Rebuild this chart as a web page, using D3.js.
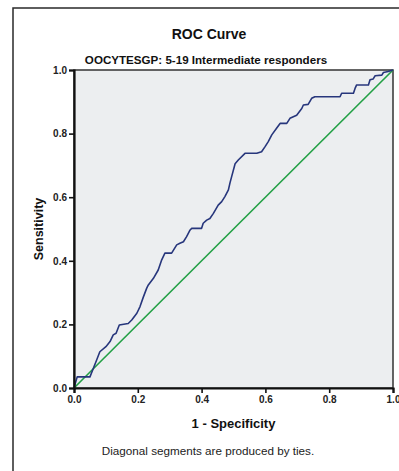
<!DOCTYPE html>
<html lang="en">

<head>
    <meta charset="UTF-8">
    <title>ROC Curve</title>
    <!-- Load d3.js -->
    <script src="https://d3js.org/d3.v7.min.js"></script>
    <style>
        body { margin: 0; background: #fff; }
        svg { display: block; font-family: "Liberation Sans", Arial, sans-serif; }
        .tick text { font-weight: bold; font-size: 10px; fill: #222; }
    </style>
</head>

<body>
    <div class="container"></div>

    <script>
        // 1 - specificity (false positive rate)
        const fpr = [0, 0.01, 0.024, 0.03, 0.05, 0.071, 0.081, 0.10, 0.113, 0.123, 0.132, 0.142, 0.170, 0.181,
            0.197, 0.207, 0.217, 0.228, 0.233, 0.249, 0.264, 0.275, 0.285, 0.306, 0.322, 0.332, 0.343, 0.353,
            0.364, 0.369, 0.400, 0.405, 0.416, 0.426, 0.437, 0.452, 0.463, 0.473, 0.484, 0.489, 0.494, 0.505,
            0.515, 0.536, 0.573, 0.588, 0.599, 0.609, 0.620, 0.635, 0.646, 0.667, 0.677, 0.698, 0.714, 0.719,
            0.734, 0.745, 0.755, 0.834, 0.839, 0.876, 0.881, 0.886, 0.923, 0.928, 0.938, 0.944, 0.965, 0.970,
            0.985, 1];
        // sensitivity (true positive rate)
        const tpr = [0, 0.035, 0.035, 0.035, 0.035, 0.088, 0.114, 0.13, 0.146, 0.167, 0.172, 0.198, 0.203, 0.214,
            0.235, 0.256, 0.285, 0.314, 0.324, 0.345, 0.371, 0.403, 0.424, 0.424, 0.450, 0.455, 0.460, 0.476,
            0.497, 0.502, 0.502, 0.518, 0.528, 0.533, 0.549, 0.575, 0.586, 0.602, 0.623, 0.645, 0.664, 0.705,
            0.717, 0.738, 0.738, 0.743, 0.759, 0.775, 0.796, 0.817, 0.832, 0.832, 0.848, 0.858, 0.879, 0.890,
            0.892, 0.911, 0.916, 0.916, 0.927, 0.927, 0.942, 0.953, 0.953, 0.969, 0.972, 0.982, 0.984, 0.992,
            0.995, 1];
        // reference line
        const diagonal = [0, 1];
        const ticks = [0, 0.2, 0.4, 0.6, 0.8, 1.0];

        const title = "ROC Curve";
        const subtitle = "OOCYTESGP: 5-19 Intermediate responders";
        const xLabel = "1 - Specificity";
        const yLabel = "Sensitivity";
        const footnote = "Diagonal segments are produced by ties.";

        const W = 399, H = 471;
        const margin = { top: 70, right: 6, bottom: 83, left: 74 },
            width = W - margin.left - margin.right,
            height = H - margin.top - margin.bottom;

        const root = d3.select(".container")
            .append("svg")
            .attr("width", W)
            .attr("height", H);

        // outer frame (right and bottom run off the picture)
        root.append("rect")
            .attr("x", 13)
            .attr("y", 8)
            .attr("width", W)
            .attr("height", H)
            .attr("fill", "none")
            .attr("stroke", "#2a2a2a")
            .attr("stroke-width", 1.5);

        root.append("text")
            .attr("x", 209)
            .attr("y", 39)
            .attr("text-anchor", "middle")
            .attr("font-size", "14px")
            .attr("font-weight", "bold")
            .attr("fill", "#111")
            .text(title);

        root.append("text")
            .attr("x", 206)
            .attr("y", 64)
            .attr("text-anchor", "middle")
            .attr("font-size", "11.6px")
            .attr("font-weight", "bold")
            .attr("fill", "#111")
            .text(subtitle);

        const svg = root.append("g")
            .attr("transform", `translate(${margin.left}, ${margin.top})`);

        const x = d3.scaleLinear().domain([0, 1]).range([0, width]);
        const y = d3.scaleLinear().domain([0, 1]).range([height, 0]);

        // plot background
        svg.append("rect")
            .attr("width", width)
            .attr("height", height)
            .attr("fill", "#eceef0")
            .attr("stroke", "#333")
            .attr("stroke-width", 1.5);

        // diagonal reference
        svg.append("line")
            .attr("x1", x(diagonal[0]))
            .attr("y1", y(diagonal[0]))
            .attr("x2", x(diagonal[1]))
            .attr("y2", y(diagonal[1]))
            .attr("stroke", "#22a045")
            .attr("stroke-width", 1.6);

        // ROC curve
        const points = fpr.map((f, i) => [f, tpr[i]]);
        svg.append("path")
            .datum(points)
            .attr("fill", "none")
            .attr("stroke", "#27367c")
            .attr("stroke-width", 1.6)
            .attr("stroke-linejoin", "round")
            .attr("d", d3.line().x(d => x(d[0])).y(d => y(d[1])));

        // axes
        const xAxis = svg.append("g")
            .attr("transform", `translate(0, ${height})`)
            .call(d3.axisBottom(x).tickValues(ticks).tickFormat(d3.format(".1f")).tickSize(5).tickPadding(3));
        const yAxis = svg.append("g")
            .call(d3.axisLeft(y).tickValues(ticks).tickFormat(d3.format(".1f")).tickSize(5).tickPadding(2));

        [xAxis, yAxis].forEach(a => {
            a.attr("font-family", null).attr("font-size", null);
            a.select(".domain").attr("stroke", "#111").attr("stroke-width", 2.2);
            a.selectAll(".tick line").attr("stroke", "#111").attr("stroke-width", 1.6);
        });

        // axis titles
        svg.append("text")
            .attr("x", width / 2)
            .attr("y", height + 40)
            .attr("text-anchor", "middle")
            .attr("font-size", "13px")
            .attr("font-weight", "bold")
            .attr("fill", "#111")
            .text(xLabel);

        svg.append("text")
            .attr("transform", `translate(-31, ${height / 2}) rotate(-90)`)
            .attr("text-anchor", "middle")
            .attr("font-size", "12.5px")
            .attr("font-weight", "bold")
            .attr("fill", "#111")
            .text(yLabel);

        root.append("text")
            .attr("x", 208)
            .attr("y", 455)
            .attr("text-anchor", "middle")
            .attr("font-size", "11.7px")
            .attr("fill", "#222")
            .text(footnote);
    </script>
</body>

</html>
